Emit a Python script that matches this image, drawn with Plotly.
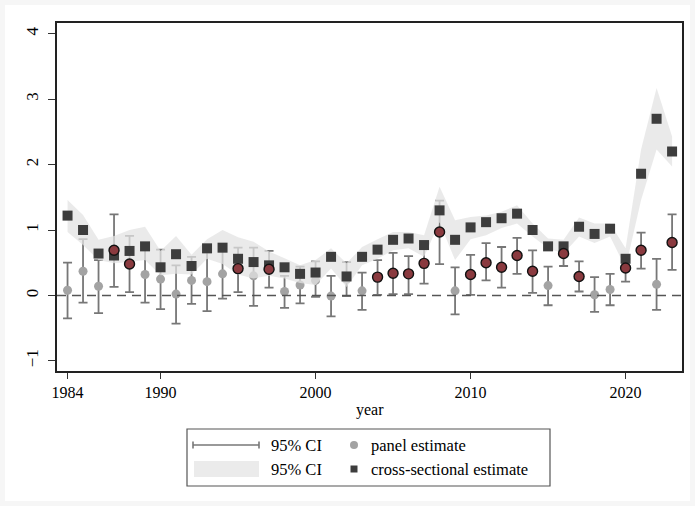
import plotly.graph_objects as go

years = list(range(1984, 2024))

# cross-sectional estimate and its 95% CI band
cs_est = [1.22, 1.00, 0.64, 0.61, 0.68, 0.75, 0.43, 0.63, 0.45, 0.72,
          0.73, 0.56, 0.51, 0.46, 0.43, 0.33, 0.35, 0.59, 0.29, 0.59,
          0.70, 0.85, 0.87, 0.77, 1.30, 0.85, 1.04, 1.12, 1.18, 1.25,
          1.00, 0.75, 0.75, 1.05, 0.94, 1.02, 0.56, 1.86, 2.70, 2.20]
cs_lo = [0.97, 0.77, 0.54, 0.49, 0.51, 0.54, 0.31, 0.33, 0.32, 0.56,
         0.48, 0.32, 0.26, 0.30, 0.26, 0.19, 0.16, 0.41, 0.13, 0.46,
         0.56, 0.69, 0.72, 0.59, 1.12, 0.54, 0.86, 0.92, 1.03, 1.10,
         0.90, 0.72, 0.64, 0.90, 0.80, 0.90, 0.42, 1.46, 2.23, 1.97]
cs_hi = [1.46, 1.23, 0.85, 0.91, 1.00, 1.05, 0.68, 0.91, 0.62, 0.86,
         1.00, 0.89, 0.82, 0.67, 0.57, 0.46, 0.54, 0.72, 0.49, 0.74,
         0.86, 0.97, 0.97, 0.92, 1.66, 1.15, 1.20, 1.22, 1.28, 1.38,
         1.10, 0.87, 0.85, 1.19, 1.10, 1.10, 0.72, 2.23, 3.17, 2.43]

# panel estimate and its 95% CI
pe_est = [0.08, 0.37, 0.14, 0.69, 0.48, 0.32, 0.25, 0.02, 0.23, 0.21,
          0.33, 0.41, 0.30, 0.40, 0.06, 0.16, 0.23, -0.01, 0.25, 0.07,
          0.28, 0.34, 0.33, 0.49, 0.97, 0.07, 0.32, 0.50, 0.43, 0.61,
          0.37, 0.15, 0.64, 0.29, 0.01, 0.09, 0.42, 0.69, 0.17, 0.81]
pe_lo = [-0.35, -0.11, -0.27, 0.13, 0.05, -0.11, -0.21, -0.43, -0.13, -0.24,
         -0.05, 0.05, -0.16, 0.12, -0.19, -0.12, -0.02, -0.32, -0.01, -0.22,
         0.01, 0.02, 0.02, 0.18, 0.48, -0.29, 0.01, 0.23, 0.12, 0.33,
         0.04, -0.15, 0.45, 0.06, -0.25, -0.15, 0.21, 0.41, -0.22, 0.39]
pe_hi = [0.50, 0.86, 0.54, 1.24, 0.91, 0.75, 0.70, 0.46, 0.59, 0.66,
         0.70, 0.73, 0.73, 0.68, 0.30, 0.44, 0.52, 0.30, 0.51, 0.35,
         0.54, 0.65, 0.60, 0.78, 1.45, 0.43, 0.62, 0.80, 0.74, 0.88,
         0.69, 0.44, 0.76, 0.52, 0.28, 0.33, 0.56, 0.96, 0.56, 1.24]

x_ticks = [1984, 1990, 2000, 2010, 2020]
y_ticks = [-1, 0, 1, 2, 3, 4]

FONT = "Liberation Serif"
W, H = 695, 506
ML, MR, MT, MB = 57, 13, 23, 135
PW, PH = W - ML - MR, H - MT - MB

def px(x):
    return (x - ML) / PW

def py(y):
    return (H - MB - y) / PH

sig = [lo > 0 for lo in pe_lo]
err_up = [h - e for h, e in zip(pe_hi, pe_est)]
err_dn = [e - l for e, l in zip(pe_est, pe_lo)]

ERR_COLOR = "#777777"
fig = go.Figure()

# error bars for all panel estimates (under the band)
fig.add_trace(go.Scatter(
    x=years, y=pe_est, mode="markers",
    marker=dict(size=9, color=["rgba(0,0,0,0)" if s else "#a3a3a3" for s in sig]),
    error_y=dict(type="data", array=err_up, arrayminus=err_dn, symmetric=False,
                 color=ERR_COLOR, thickness=1.8, width=4.5),
    hoverinfo="skip", showlegend=False))

# CI band for cross-sectional estimate
fig.add_trace(go.Scatter(x=years, y=cs_lo, mode="lines", line=dict(width=0),
                         hoverinfo="skip", showlegend=False))
fig.add_trace(go.Scatter(x=years, y=cs_hi, mode="lines", line=dict(width=0),
                         fill="tonexty", fillcolor="rgba(226,226,226,0.74)",
                         hoverinfo="skip", showlegend=False))

# cross-sectional squares
fig.add_trace(go.Scatter(x=years, y=cs_est, mode="markers",
                         marker=dict(symbol="square", size=10, color="#3d3d3d"),
                         showlegend=False))

# significant panel estimates on top
sx = [y for y, s in zip(years, sig) if s]
sy = [v for v, s in zip(pe_est, sig) if s]
fig.add_trace(go.Scatter(x=sx, y=sy, mode="markers",
                         marker=dict(size=10, color="#8a3a3f",
                                     line=dict(color="#111111", width=1.4)),
                         showlegend=False))

shapes = []
# zero dashed line
shapes.append(dict(type="line", xref="paper", yref="y", x0=0, x1=1, y0=0, y1=0,
                   line=dict(color="#555555", width=1.4, dash="9px,6px"), layer="above"))
# outer light border
shapes.append(dict(type="rect", xref="paper", yref="paper", x0=px(5), x1=px(690),
                   y0=py(501), y1=py(5), line=dict(width=0), fillcolor="white", layer="below"))

# legend box (manual)
shapes.append(dict(type="rect", xref="paper", yref="paper", x0=px(187), x1=px(550),
                   y0=py(486), y1=py(429), line=dict(color="#555555", width=1.2),
                   fillcolor="white"))
r1, r2 = 445, 469
shapes.append(dict(type="line", xref="paper", yref="paper", x0=px(193), x1=px(259),
                   y0=py(r1), y1=py(r1), line=dict(color=ERR_COLOR, width=1.6)))
for cx in (193, 259):
    shapes.append(dict(type="line", xref="paper", yref="paper", x0=px(cx), x1=px(cx),
                       y0=py(r1 - 3.5), y1=py(r1 + 3.5), line=dict(color=ERR_COLOR, width=1.6)))
shapes.append(dict(type="rect", xref="paper", yref="paper", x0=px(194), x1=px(259),
                   y0=py(477), y1=py(461), line=dict(width=0), fillcolor="#ebebeb"))
shapes.append(dict(type="circle", xref="paper", yref="paper", x0=px(350), x1=px(358),
                   y0=py(r1 + 4), y1=py(r1 - 4), line=dict(width=0), fillcolor="#a3a3a3"))
shapes.append(dict(type="rect", xref="paper", yref="paper", x0=px(350.5), x1=px(357.5),
                   y0=py(r2 + 3.5), y1=py(r2 - 3.5), line=dict(width=0), fillcolor="#3d3d3d"))

annotations = []
for txt, x, y in [("95% CI", 269, r1), ("panel estimate", 369, r1),
                  ("95% CI", 269, r2), ("cross-sectional estimate", 369, r2)]:
    annotations.append(dict(text=txt, xref="paper", yref="paper", x=px(x), y=py(y),
                            xanchor="left", yanchor="middle", showarrow=False,
                            font=dict(family=FONT, size=16.5, color="black")))
annotations.append(dict(text="year", xref="paper", yref="paper", x=0.5, y=py(410),
                        xanchor="center", yanchor="middle", showarrow=False,
                        font=dict(family=FONT, size=16, color="black")))

fig.update_layout(
    width=W, height=H,
    margin=dict(l=ML, r=MR, t=MT, b=MB),
    paper_bgcolor="#f6f6f6", plot_bgcolor="white",
    font=dict(family=FONT, size=16, color="black"),
    shapes=shapes, annotations=annotations,
    xaxis=dict(range=[1983.32, 2023.64], tickvals=x_ticks, ticks="outside", ticklen=6,
               tickwidth=1.2, tickcolor="#333333", showgrid=False, zeroline=False,
               showline=True, mirror=True, linecolor="#222222", linewidth=1.5,
               tickfont=dict(family=FONT, size=16)),
    yaxis=dict(range=[-1.155, 4.164], tickvals=y_ticks, ticks="outside", ticklen=7,
               tickwidth=1.2, tickcolor="#333333", showgrid=False, zeroline=False,
               showline=True, mirror=True, linecolor="#222222", linewidth=1.5,
               tickangle=-90, ticklabelstandoff=3, tickfont=dict(family=FONT, size=17)),
)

fig.write_html("out.html")
